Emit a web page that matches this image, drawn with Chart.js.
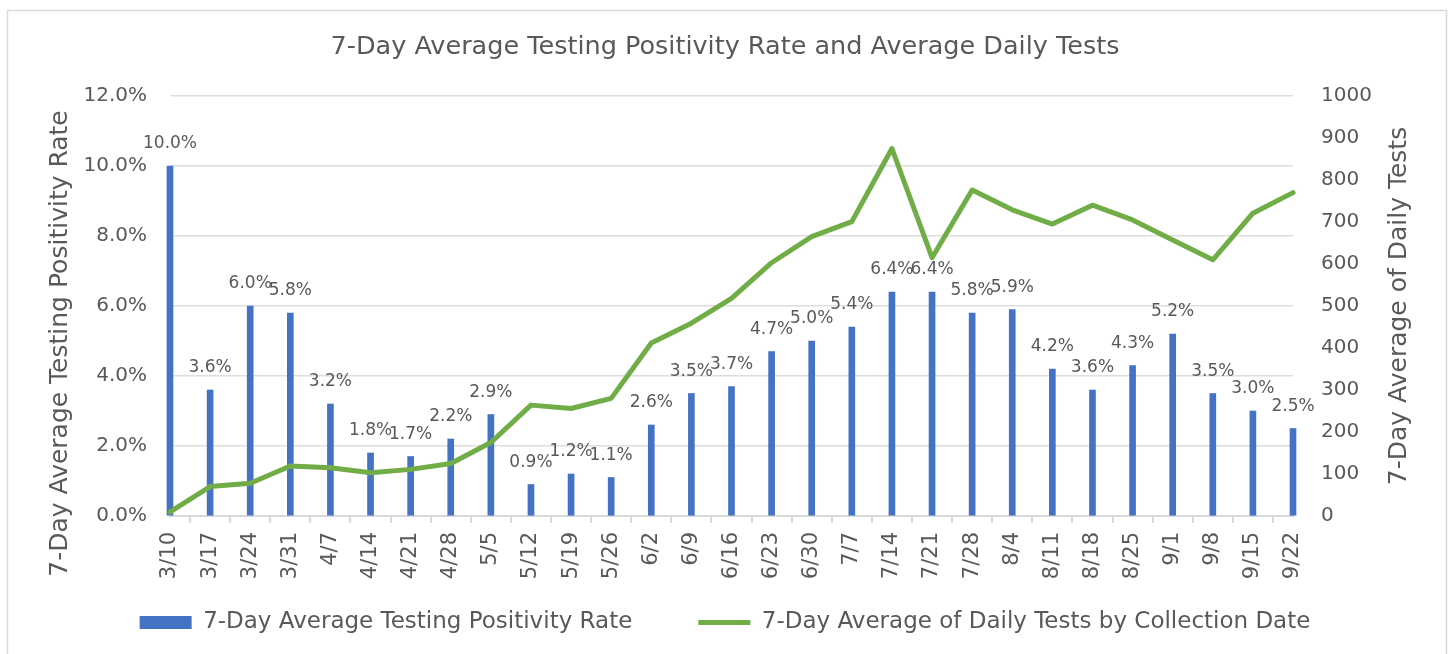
<!DOCTYPE html>
<html><head><meta charset="utf-8">
<script src="https://cdn.jsdelivr.net/npm/chart.js@4.4.1/dist/chart.umd.min.js"></script>
<style>html,body{margin:0;padding:0;background:#fff;overflow:hidden}canvas{display:block}</style>
</head><body>
<canvas id="c" width="1450" height="654"></canvas>
<script>
const weeks = ['3/10','3/17','3/24','3/31','4/7','4/14','4/21','4/28','5/5','5/12','5/19','5/26','6/2','6/9','6/16','6/23','6/30','7/7','7/14','7/21','7/28','8/4','8/11','8/18','8/25','9/1','9/8','9/15','9/22'];
const positivityRate = [10.0,3.6,6.0,5.8,3.2,1.8,1.7,2.2,2.9,0.9,1.2,1.1,2.6,3.5,3.7,4.7,5.0,5.4,6.4,6.4,5.8,5.9,4.2,3.6,4.3,5.2,3.5,3.0,2.5];
const dailyTests = [10,70,78,119,115,103,111,125,175,264,256,280,412,459,518,603,665,701,875,615,776,729,695,740,705,657,610,721,770];
const chartTitle = '7-Day Average Testing Positivity Rate and Average Daily Tests';
const leftAxisTitle = '7-Day Average Testing Positivity Rate';
const rightAxisTitle = '7-Day Average of Daily Tests';
const barLabel = '7-Day Average Testing Positivity Rate';
const lineLabel = '7-Day Average of Daily Tests by Collection Date';

const FONT = '"DejaVu Sans"';
const GREY = '#595959';

const framePlugin = {
  id: 'frame',
  beforeDraw(chart) {
    const ctx = chart.ctx;
    ctx.save();
    ctx.strokeStyle = '#d9d9d9';
    ctx.lineWidth = 1.5;
    ctx.strokeRect(7.5, 10.5, 1439, 700);
    ctx.restore();
  }
};

const labelPlugin = {
  id: 'barLabels',
  afterDatasetsDraw(chart) {
    const ctx = chart.ctx;
    const meta = chart.getDatasetMeta(0);
    ctx.save();
    ctx.font = '17px ' + FONT;
    ctx.fillStyle = GREY;
    ctx.textAlign = 'center';
    ctx.textBaseline = 'middle';
    meta.data.forEach((el, i) => {
      ctx.fillText(positivityRate[i].toFixed(1) + '%', el.x, el.y - 22);
    });
    ctx.restore();
  }
};

function drawVerticalTitle(ctx, text, x, y) {
  ctx.save();
  ctx.translate(x, y);
  ctx.rotate(-Math.PI / 2);
  ctx.font = '25px ' + FONT;
  ctx.fillStyle = GREY;
  ctx.textAlign = 'center';
  ctx.textBaseline = 'middle';
  ctx.fillText(text, 0, 0);
  ctx.restore();
}

const axisTitlePlugin = {
  id: 'axisTitles',
  afterLayout(chart) {
    // place the legend row just under the rotated date labels
    const lg = chart.legend;
    lg.top = 545;
    lg.bottom = 654;
  },
  afterDraw(chart) {
    const ctx = chart.ctx;
    const a = chart.chartArea;
    const xs = chart.scales.x;
    drawVerticalTitle(ctx, leftAxisTitle, 60, (a.top + xs.bottom) / 2);
    drawVerticalTitle(ctx, rightAxisTitle, 1399, (a.top + a.bottom) / 2);
  }
};

new Chart(document.getElementById('c'), {
  type: 'bar',
  data: {
    labels: weeks,
    datasets: [
      {
        type: 'bar',
        label: barLabel,
        data: positivityRate,
        backgroundColor: '#4472C4',
        borderWidth: 0,
        barThickness: 6,
        yAxisID: 'y',
        order: 2,
        clip: false,
        pointStyle: 'rect'
      },
      {
        type: 'line',
        label: lineLabel,
        data: dailyTests,
        borderColor: '#70AD47',
        backgroundColor: '#70AD47',
        borderWidth: 5,
        pointRadius: 0,
        pointStyle: 'line',
        tension: 0,
        yAxisID: 'y1',
        order: 1,
        clip: false,
        borderJoinStyle: 'round',
        borderCapStyle: 'round'
      }
    ]
  },
  options: {
    responsive: false,
    animation: false,
    layout: { padding: { left: 0, right: 0, top: 0, bottom: 23 } },
    plugins: {
      tooltip: { enabled: false },
      title: {
        display: true,
        text: chartTitle,
        color: GREY,
        font: { family: FONT, size: 25.5, weight: 'normal' },
        padding: { top: 32, bottom: 33.4 }
      },
      legend: {
        position: 'bottom',
        maxHeight: 40,
        labels: {
          usePointStyle: true,
          pointStyleWidth: 52,
          boxHeight: 13,
          padding: 66,
          color: GREY,
          font: { family: FONT, size: 23 },
          sort: (a, b) => a.datasetIndex - b.datasetIndex
        }
      }
    },
    scales: {
      x: {
        offset: false,
        grid: { display: true, drawOnChartArea: false, drawTicks: true, tickLength: 7, color: '#d9d9d9', lineWidth: 2 },
        border: { display: true, color: '#d9d9d9', width: 2 },
        ticks: { autoSkip: false, minRotation: 90, maxRotation: 90, padding: 9, color: GREY, font: { family: FONT, size: 21 } },
        afterFit: s => { s.height = 75; }
      },
      y: {
        position: 'left',
        min: 0, max: 12,
        ticks: { stepSize: 2, padding: 23, color: GREY, font: { family: FONT, size: 20 }, callback: v => v.toFixed(1) + '%' },
        grid: { color: '#dedede', lineWidth: 1.5, drawTicks: false },
        border: { display: false },
        afterFit: s => { s.width = 170; }
      },
      y1: {
        position: 'right',
        min: 0, max: 1000,
        ticks: { stepSize: 100, padding: 28, color: GREY, font: { family: FONT, size: 20 }, callback: v => String(v) },
        grid: { display: false, drawTicks: false },
        border: { display: false },
        afterFit: s => { s.width = 157; }
      }
    }
  },
  plugins: [framePlugin, labelPlugin, axisTitlePlugin]
});
</script>
</body></html>
